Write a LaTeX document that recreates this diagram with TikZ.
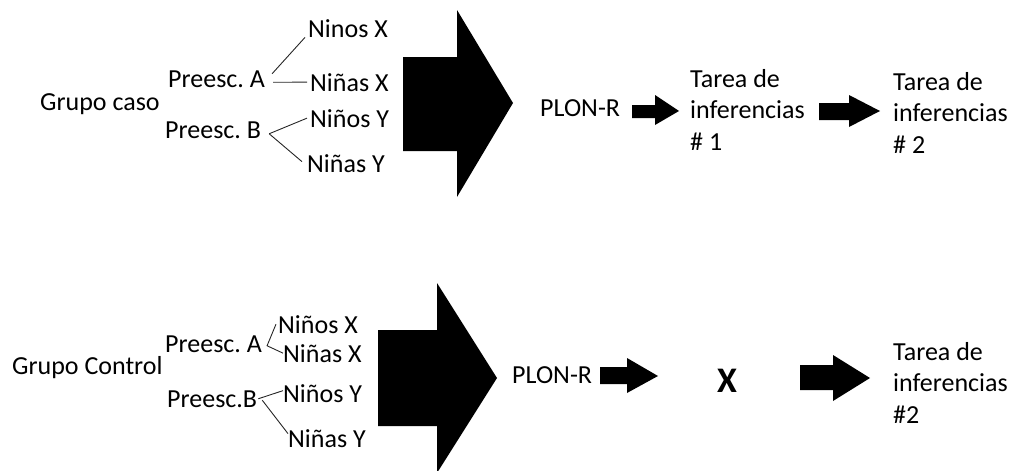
\documentclass[tikz,border=0pt]{standalone}
\usepackage{fontspec}
\setmainfont{Carlito}
\frenchspacing
\begin{document}
\begin{tikzpicture}[x=1pt,y=-1pt,
  lbl/.style={anchor=base west,inner sep=0pt,font=\fontsize{26}{31.5}\selectfont\frenchspacing},
  twig/.style={line width=0.9pt,black!85},
  blk/.style={fill=black}]
\useasboundingbox (0,0) rectangle (1015,471);

% ---------- Grupo caso ----------
\node[lbl] (gc1) at (40,110) {Grupo caso};
\node[lbl] (pa1) at (168,87) {Preesc. A};
\node[lbl] (pb1) at (165,138) {Preesc. B};
\node[lbl] (n11) at (308,37) {Ninos X};
\node[lbl] (n12) at (310,91) {Niñas X};
\node[lbl] (n13) at (310,127) {Niños Y};
\node[lbl] (n14) at (307,172) {Niñas Y};

\draw[twig] ([xshift=7pt,yshift=5pt]pa1.east) -- ([xshift=-3pt]n11.south west);
\draw[twig] ([xshift=8pt,yshift=-3.5pt]pa1.east) -- ([xshift=-3pt]n12.west);
\draw[twig] ([xshift=8pt,yshift=-4pt]pb1.east) -- ([xshift=-3pt]n13.west);
\draw[twig] ([xshift=8pt,yshift=-4pt]pb1.east) -- ([xshift=-5pt,yshift=1.5pt]n14.west);

\fill[blk] (403,57) -- (457,57) -- (457,10) -- (513,103) -- (457,197)
  -- (457,151) -- (403,151) -- cycle;

\node[lbl] (pl1) at (540,116) {PLON-R};
\fill[blk] (632,105) -- (655,105) -- (655,95) -- (679,111) -- (655,125)
  -- (655,118) -- (632,118) -- cycle;
\node[lbl] (t11) at (690,87) {\begin{tabular}[t]{@{}l@{}}Tarea de\\inferencias\\\# 1\end{tabular}};
\fill[blk] (819,103) -- (849,103) -- (849,95) -- (880,111) -- (849,127)
  -- (849,120) -- (819,120) -- cycle;
\node[lbl] (t12) at (893,90) {\begin{tabular}[t]{@{}l@{}}Tarea de\\inferencias\\\# 2\end{tabular}};

% ---------- Grupo Control ----------
\node[lbl] (gc2) at (12,374) {Grupo Control};
\node[lbl] (pa2) at (165,352) {Preesc. A};
\node[lbl] (pb2) at (167,407) {Preesc.B};
\node[lbl] (n21) at (278,333) {Niños X};
\node[lbl] (n22) at (283,362) {Niñas X};
\node[lbl] (n23) at (283,402) {Niños Y};
\node[lbl] (n24) at (288,447) {Niñas Y};

\draw[twig] ([xshift=-2pt]n21.west) -- ([xshift=5pt,yshift=-2pt]pa2.east) -- (n22.west);
\draw[twig] ([xshift=1pt]pb2.east) -- ([yshift=2.5pt]n23.west);
\draw[twig] ([xshift=5pt,yshift=-1.5pt]pb2.east) -- ([yshift=4.5pt]n24.west);

\fill[blk] (378,330) -- (437,330) -- (437,283) -- (497,378) -- (437,473)
  -- (437,426) -- (378,426) -- cycle;

\node[lbl] (pl2) at (512,383) {PLON-R};
\fill[blk] (600,367) -- (627,367) -- (627,358) -- (658,376) -- (627,393)
  -- (627,384) -- (600,384) -- cycle;
\node[lbl,anchor=base,font=\fontsize{36}{40}\selectfont\bfseries] (nx) at (727,392) {X};
\fill[blk] (800,365) -- (833,365) -- (833,355) -- (870,378) -- (833,401)
  -- (833,390) -- (800,390) -- cycle;
\node[lbl] (t22) at (893,360) {\begin{tabular}[t]{@{}l@{}}Tarea de\\inferencias\\\#2\end{tabular}};
\end{tikzpicture}
\end{document}
